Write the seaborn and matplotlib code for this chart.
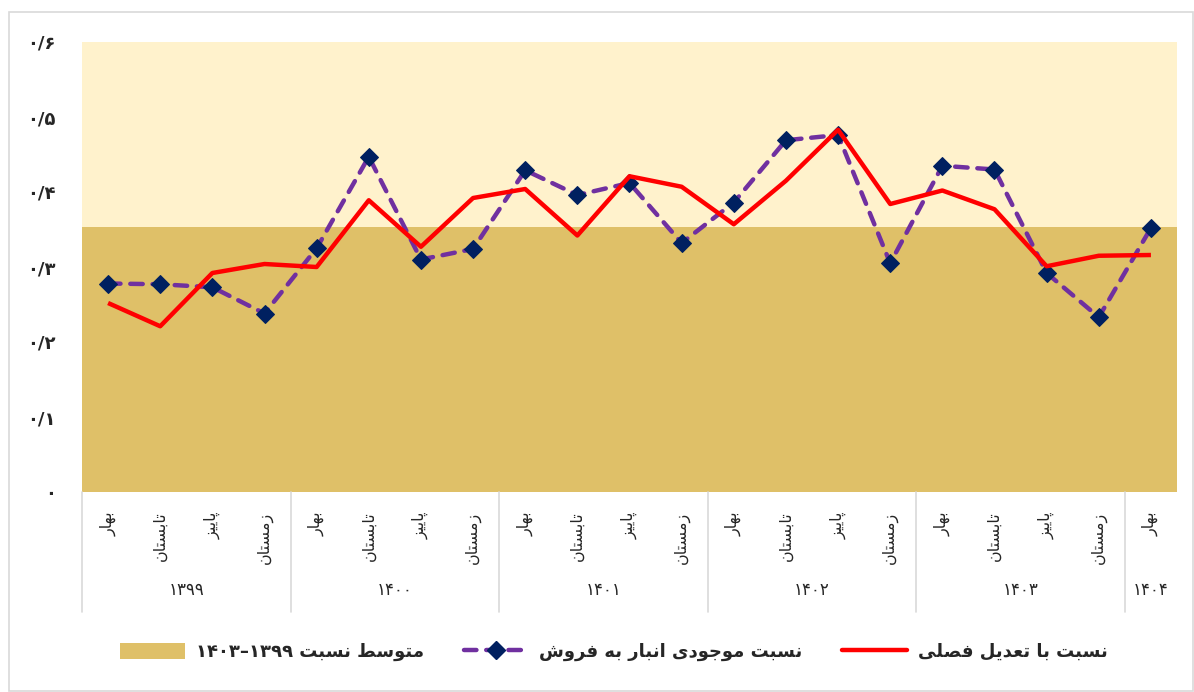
import numpy as np
import pandas as pd
import matplotlib
matplotlib.use("Agg")
import matplotlib.pyplot as plt
import seaborn as sns
from matplotlib.patches import Patch, Rectangle
from matplotlib.lines import Line2D
import matplotlib.transforms as mtransforms

# ---------------- data ----------------
years = ["۱۳۹۹", "۱۴۰۰", "۱۴۰۱", "۱۴۰۲", "۱۴۰۳", "۱۴۰۴"]
year_sizes = [4, 4, 4, 4, 4, 1]
seasons = ["بهار", "تابستان", "پاییز", "زمستان"]
season_labels = seasons * 5 + ["بهار"]

inventory_ratio = [0.278, 0.277, 0.273, 0.238,
                   0.325, 0.447, 0.310, 0.324,
                   0.429, 0.396, 0.412, 0.332,
                   0.386, 0.469, 0.476, 0.305,
                   0.435, 0.430, 0.292, 0.233,
                   0.352]
seasonal_adjusted = [0.252, 0.221, 0.292, 0.304,
                     0.300, 0.389, 0.327, 0.392,
                     0.404, 0.342, 0.421, 0.407,
                     0.357, 0.415, 0.483, 0.384,
                     0.402, 0.377, 0.301, 0.315,
                     0.316]
average_ratio = [0.353] * 21

y_ticks = [0, 0.1, 0.2, 0.3, 0.4, 0.5, 0.6]
y_tick_labels = ["۰", "۰/۱", "۰/۲", "۰/۳", "۰/۴", "۰/۵", "۰/۶"]

legend_avg = "متوسط نسبت ۱۳۹۹–۱۴۰۳"
legend_inv = "نسبت موجودی انبار به فروش"
legend_adj = "نسبت با تعدیل فصلی"

# ---------------- simple Persian shaping ----------------
FORMS = {
    'ا': ('\uFE8D', '\uFE8E', None, None),
    'ب': ('\uFE8F', '\uFE90', '\uFE91', '\uFE92'),
    'پ': ('\uFB56', '\uFB57', '\uFB58', '\uFB59'),
    'ت': ('\uFE95', '\uFE96', '\uFE97', '\uFE98'),
    'ج': ('\uFE9D', '\uFE9E', '\uFE9F', '\uFEA0'),
    'د': ('\uFEA9', '\uFEAA', None, None),
    'ر': ('\uFEAD', '\uFEAE', None, None),
    'ز': ('\uFEAF', '\uFEB0', None, None),
    'س': ('\uFEB1', '\uFEB2', '\uFEB3', '\uFEB4'),
    'ش': ('\uFEB5', '\uFEB6', '\uFEB7', '\uFEB8'),
    'ص': ('\uFEB9', '\uFEBA', '\uFEBB', '\uFEBC'),
    'ط': ('\uFEC1', '\uFEC2', '\uFEC3', '\uFEC4'),
    'ع': ('\uFEC9', '\uFECA', '\uFECB', '\uFECC'),
    'ف': ('\uFED1', '\uFED2', '\uFED3', '\uFED4'),
    'ل': ('\uFEDD', '\uFEDE', '\uFEDF', '\uFEE0'),
    'م': ('\uFEE1', '\uFEE2', '\uFEE3', '\uFEE4'),
    'ن': ('\uFEE5', '\uFEE6', '\uFEE7', '\uFEE8'),
    'ه': ('\uFEE9', '\uFEEA', '\uFEEB', '\uFEEC'),
    'و': ('\uFEED', '\uFEEE', None, None),
    'ی': ('\uFBFC', '\uFBFD', '\uFBFE', '\uFBFF'),
}


def shape_word(w):
    out = []
    for i, c in enumerate(w):
        if c not in FORMS:
            out.append(c)
            continue
        prev = w[i - 1] if i > 0 else None
        nxt = w[i + 1] if i + 1 < len(w) else None
        jp = prev in FORMS and FORMS[prev][2] is not None
        jn = nxt in FORMS and FORMS[c][2] is not None
        f = FORMS[c]
        if jp and jn:
            g = f[3]
        elif jp:
            g = f[1]
        elif jn:
            g = f[2]
        else:
            g = f[0]
        out.append(g)
    return ''.join(reversed(out))


def to_visual(text):
    vis = []
    for tok in text.split(' '):
        if any(ch in FORMS for ch in tok):
            vis.append(shape_word(tok))
        elif '–' in tok:
            vis.append('–'.join(reversed(tok.split('–'))))
        else:
            vis.append(tok)
    return ' '.join(reversed(vis))


# ---------------- style ----------------
sns.set_style("white")
plt.rcParams['font.family'] = ['DejaVu Sans']

C_LIGHT = "#FFF2CC"
C_TAN = "#DFC068"
C_PURPLE = "#7030A0"
C_NAVY = "#002060"
C_RED = "#FF0000"

W, H = 1194, 692
fig = plt.figure(figsize=(W / 100, H / 100), dpi=100)
ax_l, ax_r, ax_t, ax_b = 82, 1177, 42, 492
ax = fig.add_axes([ax_l / W, 1 - ax_b / H, (ax_r - ax_l) / W, (ax_b - ax_t) / H])
ax.set_facecolor(C_LIGHT)

pos = np.arange(len(inventory_ratio))
df = pd.DataFrame({"pos": pos, "inv": inventory_ratio, "adj": seasonal_adjusted,
                   "avg": average_ratio})

# average band as full-width bars
sns.barplot(data=df, x="pos", y="avg", width=1.0, color=C_TAN, saturation=1,
            edgecolor="none", linewidth=0, ax=ax, native_scale=True, zorder=1)

# inventory-to-sales ratio: dashed purple with navy diamonds
sns.lineplot(data=df, x="pos", y="inv", color=C_PURPLE, linewidth=3.2,
             linestyle=(0, (2.8, 2.2)), dash_capstyle="round",
             marker="D", markersize=9.5, markerfacecolor=C_NAVY,
             markeredgecolor=C_NAVY, ax=ax, zorder=3)
# seasonally adjusted: solid red
sns.lineplot(data=df, x="pos", y="adj", color=C_RED, linewidth=3.2,
             solid_capstyle="butt", ax=ax, zorder=4)

ax.set_xlim(-0.5, len(pos) - 0.5)
ax.set_ylim(0, 0.6)
for s in ax.spines.values():
    s.set_visible(False)
ax.set_xlabel("")
ax.set_ylabel("")

ax.set_yticks(y_ticks)
ax.set_yticklabels(y_tick_labels, fontsize=13, fontweight="bold")
ax.tick_params(axis="y", length=0, pad=19)

ax.set_xticks(pos)
ax.set_xticklabels([to_visual(s) for s in season_labels], rotation=90,
                   fontsize=11.5, va="top", ha="center")
ax.tick_params(axis="x", length=0, pad=14)

# year group labels and separators
trans = mtransforms.blended_transform_factory(ax.transData, ax.transAxes)
sep_bottom = -(612 - ax_b) / (ax_b - ax_t)
year_y = -(590 - ax_b) / (ax_b - ax_t)
start = -0.5
ax.plot([start, start], [0, sep_bottom], color="#D9D9D9", lw=1.2,
        transform=trans, clip_on=False)
for yr, n in zip(years, year_sizes):
    end = start + n
    ax.text((start + end) / 2, year_y, yr, transform=trans, ha="center",
            va="center", fontsize=12)
    if yr != years[-1]:
        ax.plot([end, end], [0, sep_bottom], color="#D9D9D9", lw=1.2,
                transform=trans, clip_on=False)
    start = end

# legend
handles = [
    Patch(facecolor=C_TAN, edgecolor="none"),
    Line2D([], [], color=C_PURPLE, lw=3.2, linestyle=(0, (2.8, 2.2)),
           dash_capstyle="round", marker="D", markersize=9.5,
           markerfacecolor=C_NAVY, markeredgecolor=C_NAVY),
    Line2D([], [], color=C_RED, lw=3.2),
]
labels = [to_visual(legend_avg), to_visual(legend_inv), to_visual(legend_adj)]
leg = fig.legend(handles, labels, loc="center", bbox_to_anchor=(614 / W, 1 - 652 / H),
                 ncol=3, frameon=False, handlelength=3.6, handleheight=1.0,
                 columnspacing=2.2, handletextpad=0.6,
                 prop={"weight": "bold", "size": 13})

# outer border
fig.patches.append(Rectangle((9 / W, 1 / H), (W - 10) / W, (H - 13) / H,
                             transform=fig.transFigure, fill=False,
                             edgecolor="#D9D9D9", lw=1.2))

fig.savefig("out.png", dpi=100)
